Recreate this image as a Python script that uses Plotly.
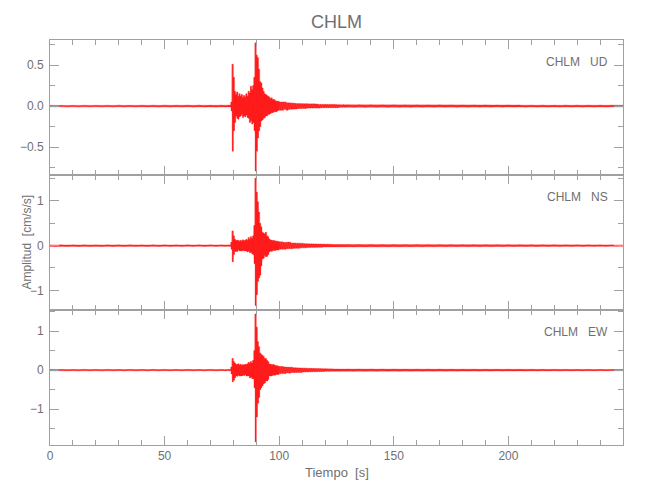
import numpy as np
import plotly.graph_objects as go
from plotly.subplots import make_subplots

# ---- time grid (bin start times, seconds) ----
T_PRE = np.arange(0, 78, 5.0)        # 0..75
T_EVT = np.arange(78, 100, 0.5)      # 78..99.5
T_CODA = np.arange(100, 130, 1.0)    # 100..129
T_POST = np.arange(130, 250, 5.0)    # 130..245
T_END = 250.0

# ---- UD component envelopes (cm/s/s) ----
UD_PRE_UP = [0.008, 0.010, 0.009, 0.011, 0.009, 0.010, 0.012, 0.009, 0.011, 0.010, 0.012, 0.010, 0.011, 0.012, 0.010, 0.012]
UD_PRE_LO = [-0.009, -0.010, -0.011, -0.009, -0.010, -0.012, -0.010, -0.011, -0.010, -0.012, -0.011, -0.010, -0.012, -0.011, -0.012, -0.011]
UD_EVT_UP = [0.01, 0.01, 0.05, 0.51, 0.35, 0.18, 0.14, 0.17, 0.12, 0.15, 0.12, 0.14, 0.10, 0.13, 0.11, 0.15,
             0.12, 0.18, 0.16, 0.24, 0.20, 0.25, 0.35, 0.77, 0.62, 0.59, 0.45, 0.30, 0.28, 0.22, 0.18, 0.15,
             0.14, 0.13, 0.12, 0.11, 0.09, 0.10, 0.08, 0.08, 0.07, 0.06, 0.06, 0.06]
UD_EVT_LO = [-0.01, -0.01, -0.06, -0.55, -0.30, -0.20, -0.12, -0.15, -0.16, -0.13, -0.12, -0.10, -0.14, -0.12, -0.13, -0.11,
             -0.14, -0.15, -0.20, -0.18, -0.22, -0.20, -0.30, -0.79, -0.55, -0.39, -0.30, -0.25, -0.18, -0.17, -0.15, -0.14,
             -0.12, -0.12, -0.10, -0.10, -0.09, -0.08, -0.08, -0.07, -0.07, -0.07, -0.06, -0.05]
UD_CODA_UP = [0.05, 0.05, 0.05, 0.04, 0.04, 0.04, 0.035, 0.03, 0.03, 0.03, 0.03, 0.025, 0.03, 0.025, 0.025,
              0.03, 0.025, 0.02, 0.025, 0.02, 0.025, 0.02, 0.02, 0.02, 0.02, 0.015, 0.02, 0.015, 0.02, 0.015]
UD_CODA_LO = [-0.05, -0.05, -0.04, -0.05, -0.04, -0.04, -0.035, -0.035, -0.03, -0.03, -0.025, -0.03, -0.025, -0.025, -0.025,
              -0.02, -0.025, -0.025, -0.02, -0.02, -0.02, -0.02, -0.02, -0.015, -0.02, -0.02, -0.015, -0.015, -0.015, -0.015]
UD_POST_UP = [0.015, 0.014, 0.015, 0.013, 0.014, 0.012, 0.013, 0.012, 0.014, 0.012, 0.011, 0.013, 0.012, 0.011, 0.012, 0.010,
              0.012, 0.011, 0.010, 0.012, 0.011, 0.010, 0.011, 0.010]
UD_POST_LO = [-0.014, -0.015, -0.013, -0.014, -0.012, -0.014, -0.012, -0.013, -0.011, -0.013, -0.012, -0.011, -0.012, -0.012, -0.010, -0.012,
              -0.011, -0.010, -0.012, -0.010, -0.011, -0.011, -0.010, -0.010]

# ---- NS component envelopes ----
NS_PRE_UP = [0.015, 0.018, 0.016, 0.020, 0.017, 0.019, 0.018, 0.021, 0.017, 0.020, 0.019, 0.018, 0.021, 0.019, 0.020, 0.018]
NS_PRE_LO = [-0.017, -0.016, -0.019, -0.018, -0.020, -0.017, -0.019, -0.018, -0.021, -0.018, -0.020, -0.019, -0.018, -0.020, -0.019, -0.021]
NS_EVT_UP = [0.015, 0.015, 0.08, 0.33, 0.22, 0.14, 0.12, 0.11, 0.12, 0.10, 0.12, 0.10, 0.13, 0.11, 0.12, 0.14,
             0.12, 0.18, 0.14, 0.20, 0.16, 0.22, 0.45, 1.51, 1.20, 0.98, 0.75, 0.50, 0.42, 0.30, 0.28, 0.26,
             0.30, 0.22, 0.20, 0.15, 0.13, 0.12, 0.11, 0.12, 0.10, 0.11, 0.10, 0.09]
NS_EVT_LO = [-0.015, -0.015, -0.08, -0.36, -0.20, -0.13, -0.12, -0.13, -0.10, -0.12, -0.11, -0.12, -0.10, -0.12, -0.11, -0.12,
             -0.14, -0.12, -0.16, -0.15, -0.18, -0.20, -0.40, -1.34, -1.10, -0.80, -0.72, -0.66, -0.45, -0.30, -0.28, -0.22,
             -0.25, -0.24, -0.20, -0.14, -0.12, -0.13, -0.11, -0.10, -0.11, -0.10, -0.09, -0.10]
NS_CODA_UP = [0.08, 0.08, 0.07, 0.07, 0.08, 0.06, 0.06, 0.06, 0.05, 0.05, 0.05, 0.04, 0.045, 0.04, 0.04,
              0.035, 0.04, 0.035, 0.03, 0.035, 0.03, 0.03, 0.03, 0.025, 0.03, 0.025, 0.025, 0.025, 0.02, 0.025]
NS_CODA_LO = [-0.08, -0.07, -0.08, -0.07, -0.06, -0.07, -0.06, -0.05, -0.06, -0.05, -0.04, -0.05, -0.04, -0.04, -0.035,
              -0.04, -0.035, -0.03, -0.035, -0.03, -0.03, -0.03, -0.025, -0.03, -0.025, -0.025, -0.025, -0.02, -0.025, -0.02]
NS_POST_UP = [0.025, 0.022, 0.024, 0.021, 0.023, 0.020, 0.022, 0.020, 0.021, 0.019, 0.020, 0.018, 0.020, 0.019, 0.017, 0.019,
              0.018, 0.017, 0.018, 0.016, 0.017, 0.016, 0.017, 0.015]
NS_POST_LO = [-0.023, -0.024, -0.021, -0.023, -0.020, -0.022, -0.021, -0.019, -0.020, -0.020, -0.018, -0.019, -0.018, -0.017, -0.019, -0.017,
              -0.018, -0.016, -0.017, -0.017, -0.016, -0.015, -0.016, -0.015]

# ---- EW component envelopes ----
EW_PRE_UP = [0.016, 0.019, 0.017, 0.020, 0.018, 0.021, 0.017, 0.020, 0.019, 0.021, 0.018, 0.020, 0.022, 0.019, 0.021, 0.020]
EW_PRE_LO = [-0.018, -0.017, -0.020, -0.018, -0.021, -0.018, -0.020, -0.019, -0.021, -0.019, -0.020, -0.022, -0.019, -0.021, -0.020, -0.022]
EW_EVT_UP = [0.015, 0.015, 0.08, 0.30, 0.22, 0.18, 0.15, 0.14, 0.16, 0.13, 0.15, 0.12, 0.14, 0.13, 0.15, 0.14,
             0.16, 0.20, 0.17, 0.22, 0.18, 0.25, 0.50, 1.44, 1.10, 0.73, 0.60, 0.44, 0.40, 0.38, 0.35, 0.30,
             0.30, 0.25, 0.22, 0.16, 0.15, 0.14, 0.13, 0.14, 0.12, 0.12, 0.11, 0.10]
EW_EVT_LO = [-0.015, -0.015, -0.10, -0.30, -0.26, -0.20, -0.15, -0.16, -0.13, -0.15, -0.14, -0.15, -0.13, -0.14, -0.12, -0.15,
             -0.14, -0.15, -0.20, -0.18, -0.22, -0.22, -0.45, -1.84, -1.20, -0.85, -0.70, -0.50, -0.45, -0.40, -0.35, -0.33,
             -0.28, -0.28, -0.24, -0.15, -0.14, -0.15, -0.13, -0.12, -0.13, -0.11, -0.11, -0.11]
EW_CODA_UP = [0.09, 0.09, 0.08, 0.08, 0.07, 0.07, 0.06, 0.065, 0.06, 0.05, 0.05, 0.05, 0.045, 0.04, 0.045,
              0.04, 0.035, 0.04, 0.035, 0.03, 0.035, 0.03, 0.03, 0.03, 0.025, 0.03, 0.025, 0.025, 0.025, 0.02]
EW_CODA_LO = [-0.09, -0.08, -0.09, -0.07, -0.08, -0.06, -0.07, -0.06, -0.055, -0.06, -0.05, -0.045, -0.05, -0.045, -0.04,
              -0.04, -0.04, -0.035, -0.035, -0.035, -0.03, -0.03, -0.03, -0.025, -0.03, -0.025, -0.025, -0.025, -0.02, -0.025]
EW_POST_UP = [0.025, 0.023, 0.024, 0.022, 0.023, 0.021, 0.022, 0.020, 0.021, 0.020, 0.019, 0.020, 0.018, 0.019, 0.018, 0.017,
              0.019, 0.017, 0.018, 0.016, 0.017, 0.016, 0.016, 0.015]
EW_POST_LO = [-0.024, -0.022, -0.023, -0.021, -0.022, -0.021, -0.020, -0.021, -0.019, -0.020, -0.019, -0.018, -0.019, -0.018, -0.017, -0.018,
              -0.017, -0.018, -0.016, -0.017, -0.016, -0.016, -0.015, -0.015]

STATION = "CHLM"
COMPONENTS = ["UD", "NS", "EW"]
Y_RANGES = [[-0.84, 0.805], [-1.44, 1.58], [-1.92, 1.54]]
Y_DTICK = [0.5, 1.0, 1.0]
Y_FMT = [".1f", "d", "d"]
X_TICKS = [0, 50, 100, 150, 200]

T = np.concatenate([T_PRE, T_EVT, T_CODA, T_POST])
ENVS = {
    "UD": (UD_PRE_UP + UD_EVT_UP + UD_CODA_UP + UD_POST_UP, UD_PRE_LO + UD_EVT_LO + UD_CODA_LO + UD_POST_LO),
    "NS": (NS_PRE_UP + NS_EVT_UP + NS_CODA_UP + NS_POST_UP, NS_PRE_LO + NS_EVT_LO + NS_CODA_LO + NS_POST_LO),
    "EW": (EW_PRE_UP + EW_EVT_UP + EW_CODA_UP + EW_POST_UP, EW_PRE_LO + EW_EVT_LO + EW_CODA_LO + EW_POST_LO),
}


def zigzag(t, up, lo):
    """Trace alternating between the max and the min of every time bin."""
    xs, ys = [], []
    edges = list(t) + [T_END]
    for i in range(len(t)):
        t0, t1 = edges[i], edges[i + 1]
        xs += [t0, (t0 + t1) / 2]
        ys += [up[i], lo[i]]
    return xs, ys


def band(t, up, lo):
    """Closed step-polygon covering each bin from its min to its max."""
    edges = list(t) + [T_END]
    xs, ys = [], []
    for i in range(len(t)):
        xs += [edges[i], edges[i + 1]]
        ys += [up[i], up[i]]
    for i in reversed(range(len(t))):
        xs += [edges[i + 1], edges[i]]
        ys += [lo[i], lo[i]]
    return xs, ys


FONT = "Liberation Sans, Arial, sans-serif"
TXT = "#707070"
AX = "#a0a0a0"

fig = make_subplots(rows=3, cols=1, shared_xaxes=True, vertical_spacing=0)

for r, comp in enumerate(COMPONENTS, start=1):
    up, lo = ENVS[comp]
    assert len(up) == len(T) and len(lo) == len(T)
    bx, by = band(T, up, lo)
    fig.add_trace(go.Scatter(x=bx, y=by, mode="lines", fill="toself", fillcolor="rgba(255,0,0,0.78)",
                             line=dict(color="rgba(255,0,0,0.55)", width=0.6),
                             showlegend=False, hoverinfo="skip"), row=r, col=1)
    zx, zy = zigzag(T, up, lo)
    fig.add_trace(go.Scatter(x=zx, y=zy, mode="lines", line=dict(color="rgba(255,0,0,0.7)", width=0.5),
                             showlegend=False, hoverinfo="skip"), row=r, col=1)
    fig.update_yaxes(range=Y_RANGES[r - 1], dtick=Y_DTICK[r - 1], tick0=0, tickformat=Y_FMT[r - 1],
                     minor=dict(ticks="inside", ticklen=5, dtick=Y_DTICK[r - 1] / 2, tickcolor=AX, showgrid=False),
                     row=r, col=1)
    fig.update_xaxes(showticklabels=(r == 3), row=r, col=1)
    yref = "y domain" if r == 1 else f"y{r} domain"
    fig.add_annotation(x=0.978, y=0.835, xref="x domain", yref=yref,
                       text=f"{STATION}\u00a0\u00a0\u00a0{comp}", showarrow=False,
                       xanchor="right", yanchor="middle", font=dict(family=FONT, size=12, color=TXT))

fig.update_xaxes(range=[0, 250], tickvals=X_TICKS, ticks="inside", ticklen=9, tickcolor=AX,
                 minor=dict(ticks="inside", ticklen=5, dtick=10, tickcolor=AX, showgrid=False),
                 showline=True, linecolor=AX, linewidth=1, mirror="ticks",
                 showgrid=False, zeroline=False, tickfont=dict(family=FONT, size=12, color=TXT))
fig.update_yaxes(ticks="inside", ticklen=9, tickcolor=AX, showline=True, linecolor=AX, linewidth=1,
                 mirror="ticks", showgrid=False, zeroline=False, ticklabelstandoff=3,
                 tickfont=dict(family=FONT, size=12, color=TXT))

fig.add_annotation(x=0.5, y=1, xref="paper", yref="paper", yshift=18, text=STATION, showarrow=False,
                   yanchor="middle", font=dict(family=FONT, size=18, color=TXT))
fig.add_annotation(x=0.5, y=0, xref="paper", yref="paper", yshift=-27, text="Tiempo  [s]", showarrow=False,
                   yanchor="middle", font=dict(family=FONT, size=13, color=TXT))
fig.add_annotation(x=0, y=0.5, xref="paper", yref="paper", xshift=-24, text="Amplitud  [cm/s/s]",
                   showarrow=False, textangle=-90, xanchor="center", yanchor="middle",
                   font=dict(family=FONT, size=12, color=TXT))

# the page adds an 8 px body margin, so the figure is 8 px smaller on each axis
fig.update_layout(width=642, height=492, margin=dict(l=39, r=27, t=32, b=55),
                  paper_bgcolor="white", plot_bgcolor="white")

fig.write_html("out.html")
